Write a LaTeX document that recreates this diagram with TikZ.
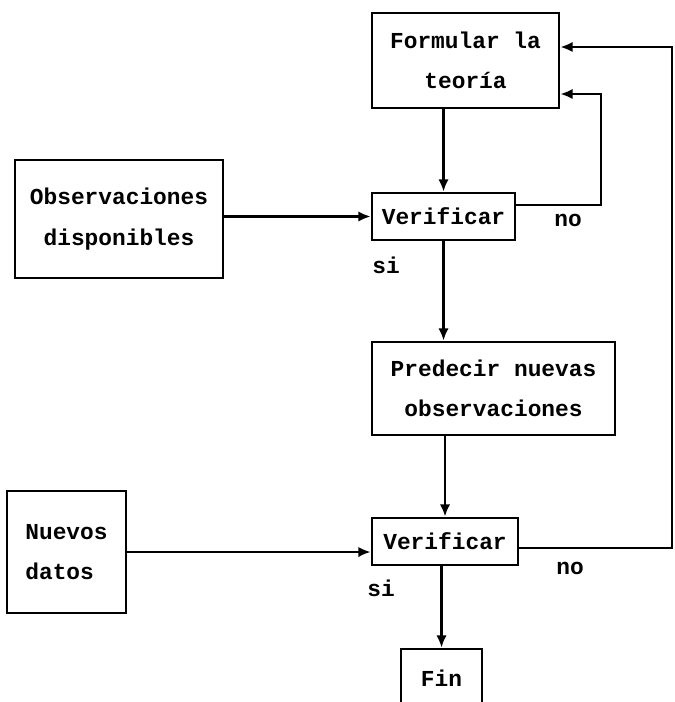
\documentclass[tikz,border=0pt]{standalone}
\usepackage{fontspec}
\setmonofont{Liberation Mono}
\usetikzlibrary{arrows.meta}

\tikzset{
    caja/.style={draw, line width=1.6pt, align=center, inner sep=2pt,
        font=\ttfamily\bfseries\fontsize{13}{23}\selectfont},
    etiqueta/.style={font=\ttfamily\bfseries\fontsize{13}{23}\selectfont, inner sep=0pt},
    flecha/.style={line width=1.6pt, -{Latex[length=7pt,width=6pt]}}
}

\begin{document}
\begin{tikzpicture}[x=0.02cm, y=-0.02cm]
    \useasboundingbox (0,0) rectangle (675,702);
    \clip (0,0) rectangle (675,702);
    % cajas
    \node[caja, minimum width=3.74cm, minimum height=1.9cm] (formular) at (465.5,60.5) {Formular la\\teoría};
    \node[caja, minimum width=2.86cm, minimum height=0.94cm] (verif1) at (443.5,216.5) {Verificar};
    \node[caja, minimum width=4.16cm, minimum height=2.36cm] (obs) at (119,219) {Observaciones\\disponibles};
    \node[caja, minimum width=4.86cm, minimum height=1.86cm] (predecir) at (493.5,388.5) {Predecir nuevas\\observaciones};
    \node[caja, minimum width=2.92cm, minimum height=0.94cm] (verif2) at (445,541.5) {Verificar};
    \node[caja, align=left, minimum width=2.38cm, minimum height=2.44cm] (nuevos) at (66.5,552) {Nuevos\\datos};
    \node[caja, minimum width=1.62cm, minimum height=1.16cm] (fin) at (441.5,678) {Fin};
    % etiquetas
    \node[etiqueta] (si1) at (386,265) {si};
    \node[etiqueta] (no1) at (568,220) {no};
    \node[etiqueta] (no2) at (570,568) {no};
    \node[etiqueta] (si2) at (381,588) {si};
    % codos
    \coordinate (codo1) at (601,94);
    \coordinate (codo2) at (672,47);
    % flechas
    \draw[flecha] (verif1 |- formular.south) -- (verif1);
    \draw[flecha] (obs.east |- verif1) -- (verif1);
    \draw[flecha] (verif1) -- (verif1 |- predecir.north);
    \draw[flecha] (verif2 |- predecir.south) -- (verif2);
    \draw[flecha] (nuevos.east) -- (nuevos.east -| verif2.west);
    \draw[flecha] (fin |- verif2.south) -- (fin);
    \draw[flecha] ([yshift=0.23cm]verif1.east) -| (codo1) -- (codo1 -| formular.east);
    \draw[flecha] ([yshift=-0.13cm]verif2.east) -| (codo2) -- (codo2 -| formular.east);
\end{tikzpicture}
\end{document}
